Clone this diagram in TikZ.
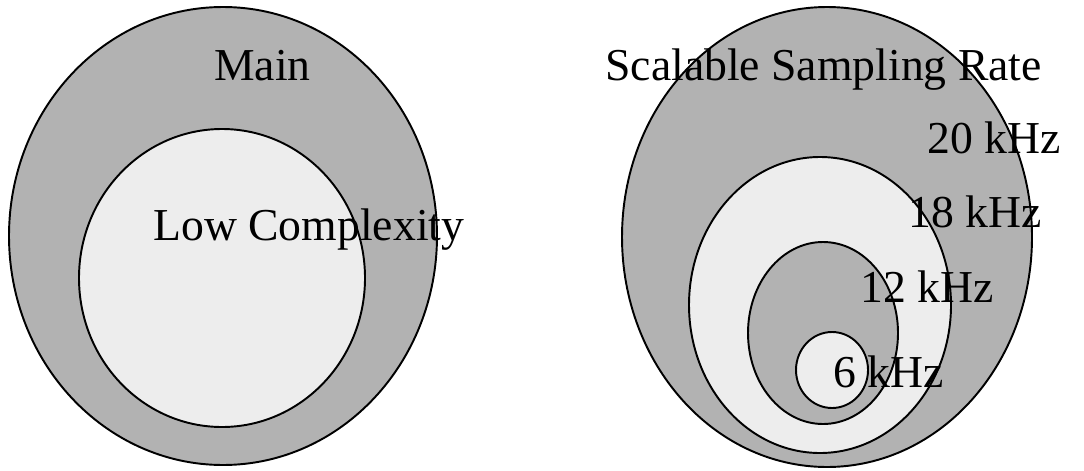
\documentclass[tikz,border=0pt]{standalone}
\usepackage{fontspec}
\setmainfont{Liberation Serif}

\tikzset{
  darkfill/.style={draw, line width=1.1pt, fill=black!30},
  lightfill/.style={draw, line width=1.1pt, fill=black!7},
  label/.style={anchor=base west, inner sep=0pt, font=\fontsize{26}{30}\selectfont}
}

\begin{document}
\begin{tikzpicture}[x=0.02cm, y=-0.02cm]

      % Definitions
      \def\lrx{214}   % Half-width of left outer ellipse
      \def\lry{229}   % Half-height of left outer ellipse

      \useasboundingbox (0,0) rectangle (1084,470);

      \coordinate (L) at (223,236);  % Centre of left set
      \coordinate (R) at (827,237);  % Centre of right set

      % Left: Main with Low Complexity inside
      \draw [darkfill] (L) ellipse [x radius=\lrx, y radius=\lry];
      \draw [lightfill] (222,278) ellipse [x radius=143, y radius=149];

      % Right: nested sampling rates
      \draw [darkfill] (R) ellipse [x radius=205, y radius=230];
      \draw [lightfill] (820,305) ellipse [x radius=131, y radius=148];
      \draw [darkfill] (823,333) ellipse [x radius=75, y radius=91];
      \draw [lightfill] (832,370) ellipse [x radius=36, y radius=38];

      % Labels
      \node [label] (main) at (214,80) {Main};
      \node [label] (low) at (153,240) {Low Complexity};
      \node [label] (ssr) at (605,80) {Scalable Sampling Rate};
      \node [label] (k20) at (927,153) {20 kHz};
      \node [label] (k18) at (908,227) {18 kHz};
      \node [label] (k12) at (860,302) {12 kHz};
      \node [label] (k6) at (833,387) {6 kHz};

\end{tikzpicture}
\end{document}
